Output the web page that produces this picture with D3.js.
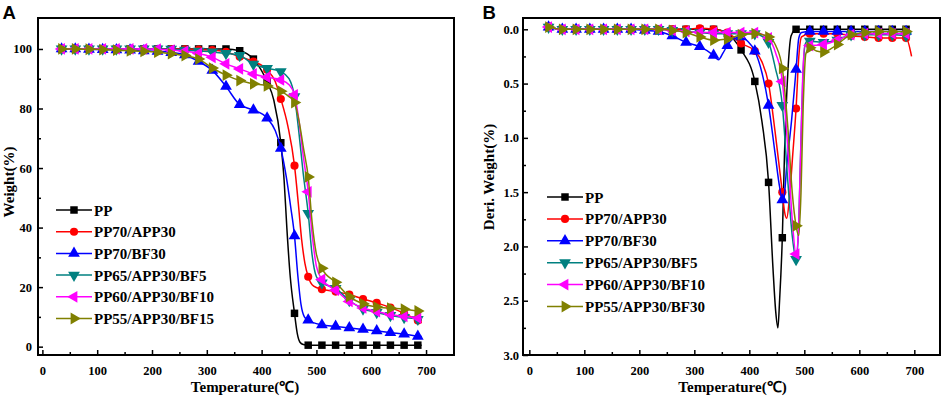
<!DOCTYPE html>
<html>
<head>
<meta charset="utf-8">
<script src="https://cdn.jsdelivr.net/npm/d3@7"></script>
<style>
  body { margin: 0; background: #fff; }
  svg text { font-family: "Liberation Serif", "Times New Roman", serif; font-weight: bold; }
  .panel-label { font-family: "Liberation Sans", Arial, sans-serif !important; }
</style>
</head>
<body>
<svg id="chart" width="943" height="399"></svg>
<script>
// temperatures where symbols sit on the curves
var markerTemps = [35, 60, 85, 110, 135, 160, 185, 210, 235, 260, 285, 310, 335, 360, 385,
  410, 435, 460, 485, 510, 535, 560, 585, 610, 635, 660, 685];

var namesA = ["PP", "PP70/APP30", "PP70/BF30", "PP65/APP30/BF5", "PP60/APP30/BF10", "PP55/APP30/BF15"];
var namesB = ["PP", "PP70/APP30", "PP70/BF30", "PP65/APP30/BF5", "PP60/APP30/BF10", "PP55/APP30/BF30"];
var colors = ["#000000", "#ff0000", "#0000ff", "#008080", "#ff00ff", "#808000"];

var xTicks = [0, 100, 200, 300, 400, 500, 600, 700];
var xMinor = [50, 150, 250, 350, 450, 550, 650];
var yTicksA = [0, 20, 40, 60, 80, 100];
var yMinorA = [10, 30, 50, 70, 90];
var yTicksB = [0, 0.5, 1.0, 1.5, 2.0, 2.5, 3.0];
var yMinorB = [0.25, 0.75, 1.25, 1.75, 2.25, 2.75];

// TGA curves (Weight %)
var tgaPP = [[35,100],[60,100],[85,100],[110,100],[135,100],[160,100],[185,100],[210,100],[235,100],[260,100],
  [285,100],[310,100],[335,100],[360,99.4],[385,96.6],[410,89],[422,83],[435,68.5],[441,56],[446,40],[452,24],
  [460,11.2],[465,4.5],[470,1.5],[476,0.7],[485,0.5],[510,0.5],[535,0.5],[560,0.5],[585,0.5],[610,0.5],
  [635,0.5],[660,0.5],[685,0.5],[692,0.5]];
var tgaAPP = [[35,100],[60,100],[85,100],[110,100],[135,100],[160,100],[185,100],[210,100],[235,100],[260,99.9],
  [285,99.8],[310,99.6],[335,99],[360,97.4],[385,95.8],[410,93],[425,89],[435,83.2],[448,74],[460,60.8],
  [467,48],[473,36],[479,28],[485,23.5],[495,20.3],[510,19.3],[535,18.5],[560,17.5],[585,16],[610,14.7],
  [635,13.1],[660,11.2],[685,8.8],[692,8]];
var tgaBF = [[35,100],[60,100],[85,99.9],[110,99.8],[135,99.7],[160,99.6],[185,99.4],[210,99.2],[235,98.8],[260,98],
  [285,95.8],[310,92.8],[335,87.4],[360,81.3],[385,79.5],[410,76.8],[425,72.5],[435,66.6],[445,57],[453,47],
  [460,37.2],[466,24],[472,14],[478,10],[485,8.9],[510,7.3],[535,6.8],[560,6.3],[585,5.8],[610,5.3],
  [635,4.7],[660,4.2],[685,3.5],[692,3.4]];
var tgaBF5 = [[35,100],[60,100],[85,100],[110,100],[135,100],[160,100],[185,100],[210,100],[235,99.9],[260,99.6],
  [285,99.3],[310,99],[335,98.5],[360,97.8],[385,94.9],[410,93.5],[435,92.4],[450,90],[460,84],[468,72],
  [476,58],[485,44.8],[492,31],[500,23.5],[510,21.4],[535,19.6],[560,15.5],[585,12.7],[610,11.5],[635,10.5],
  [660,9.8],[685,9.2],[692,8.9]];
var tgaBF10 = [[35,100],[60,100],[85,100],[110,100],[135,100],[160,100],[185,100],[210,99.9],[235,99.6],[260,99.2],
  [285,98.5],[310,97.2],[335,95],[360,93.3],[385,91.6],[410,90.5],[435,89.6],[450,88],[460,84.6],[468,76],
  [476,64],[485,52],[492,38],[500,27],[510,22.6],[535,19],[560,15.2],[585,13],[610,11.8],[635,10.8],
  [660,10.2],[685,9.7],[692,9.5]];
var tgaBF15 = [[35,100],[60,100],[85,99.9],[110,99.8],[135,99.6],[160,99.4],[185,99.2],[210,98.9],[235,98.4],[260,97.8],
  [285,96.6],[310,93.6],[335,91.2],[360,89.4],[385,88.3],[410,87.6],[435,85.8],[450,84],[460,82],[468,76],
  [477,66],[485,57],[492,42],[500,31],[510,26.3],[535,21.6],[560,16.8],[585,14.4],[610,13.3],[635,12.9],
  [660,12.6],[685,12],[692,11.8]];

// DTG curves (Deri. Weight %)
var dtgPP = [[35,-0.02],[60,0],[85,0],[110,0],[135,0],[160,0],[185,0],[210,0],[235,0],[260,0],[285,0],[310,0],
  [335,0],[360,0.04],[385,0.19],[410,0.48],[423,0.85],[435,1.41],[443,2.2],[448,2.6],[452,2.75],[455,2.5],
  [460,1.92],[464,1.14],[470,0.4],[476,0.06],[485,0],[510,0],[535,0],[560,0],[585,0],[610,0],[635,0],
  [660,0],[685,0]];
var dtgAPP = [[35,-0.02],[60,0],[85,0],[110,0],[135,0],[160,0],[185,0],[210,0],[235,0],[260,0],[285,0],[310,-0.01],
  [335,0],[360,0.03],[385,0.13],[410,0.2],[423,0.3],[435,0.5],[447,0.95],[460,1.5],[464,1.68],[468,1.74],
  [473,1.55],[479,1.15],[485,0.73],[490,0.25],[495,0.07],[510,0.04],[535,0.04],[560,0.04],[585,0.06],
  [610,0.07],[635,0.08],[660,0.08],[685,0.08],[695,0.25]];
var dtgBF = [[35,-0.02],[60,0],[85,0],[110,0],[135,0],[160,0],[185,0],[210,0.01],[235,0.02],[260,0.06],[285,0.12],
  [310,0.16],[335,0.24],[344,0.28],[352,0.22],[360,0.15],[370,0.09],[385,0.07],[397,0.11],[410,0.2],[423,0.4],
  [435,0.7],[447,1.15],[455,1.45],[460,1.57],[463,1.55],[468,1.26],[477,0.83],[485,0.37],[490,0.08],
  [495,0.03],[510,0.02],[535,0.02],[560,0.02],[585,0.02],[610,0.02],[635,0.02],[660,0.02],[685,0.02]];
var dtgBF5 = [[35,-0.02],[60,0],[85,0],[110,0],[135,0],[160,0],[185,0],[210,0],[235,0],[260,0.01],[285,0.02],
  [310,0.03],[335,0.04],[360,0.04],[385,0.04],[410,0.04],[425,0.07],[435,0.12],[447,0.35],[460,0.7],
  [470,1.4],[478,1.9],[485,2.12],[489,1.9],[493,1.2],[497,0.5],[501,0.15],[505,0.11],[510,0.11],[535,0.12],
  [560,0.1],[585,0.05],[610,0.05],[635,0.05],[660,0.05],[685,0.06]];
var dtgBF10 = [[35,-0.02],[60,0],[85,0],[110,0],[135,0],[160,0],[185,0],[210,0],[235,0],[260,0.01],[285,0.02],
  [310,0.03],[335,0.03],[360,0.03],[385,0.03],[410,0.03],[425,0.05],[435,0.08],[448,0.22],[460,0.48],
  [470,1.1],[478,1.75],[485,2.07],[489,1.9],[493,1.2],[497,0.45],[501,0.15],[510,0.15],[535,0.14],
  [560,0.1],[585,0.05],[610,0.04],[635,0.04],[660,0.04],[685,0.04]];
var dtgBF15 = [[35,-0.02],[60,0],[85,0],[110,0],[135,0],[160,0],[185,0],[210,0],[235,0],[260,0.01],[285,0.03],
  [310,0.07],[335,0.1],[360,0.09],[385,0.05],[410,0.04],[435,0.07],[448,0.15],[460,0.36],[470,0.9],
  [478,1.5],[485,1.81],[490,1.9],[494,1.5],[498,0.7],[503,0.22],[510,0.17],[522,0.2],[535,0.21],[548,0.18],
  [560,0.14],[572,0.09],[585,0.05],[610,0.03],[635,0.02],[660,0.02],[685,0.02]];

var svg = d3.select("#chart");

// symbol type + rotation for each series
var shapes = [
  { type: d3.symbolSquare, size: 56, rot: 0 },
  { type: d3.symbolCircle, size: 52, rot: 0 },
  { type: d3.symbolTriangle, size: 60, rot: 0 },
  { type: d3.symbolTriangle, size: 60, rot: 180 },
  { type: d3.symbolTriangle, size: 60, rot: -90 },
  { type: d3.symbolTriangle, size: 60, rot: 90 }
];

function drawPanel(p) {
  var x = p.x, y = p.y;
  var left = x.range()[0], right = x.range()[1];
  var top = y.range()[1], bottom = y.range()[0];
  if (p.flip) { top = y.range()[0]; bottom = y.range()[1]; }

  var g = svg.append("g");

  var line = d3.line()
    .x(function (d) { return x(d[0]); })
    .y(function (d) { return y(d[1]); })
    .curve(d3.curveMonotoneX);

  p.series.forEach(function (s, i) {
    g.append("path")
      .datum(s)
      .attr("fill", "none")
      .attr("stroke", colors[i])
      .attr("stroke-width", 1.5)
      .attr("d", line);

    g.selectAll(".m" + i)
      .data(s.filter(function (d) { return markerTemps.indexOf(d[0]) >= 0; }))
      .enter()
      .append("path")
      .attr("class", "m" + i)
      .attr("fill", colors[i])
      .attr("d", d3.symbol().type(shapes[i].type).size(shapes[i].size))
      .attr("transform", function (d) {
        return "translate(" + x(d[0]) + "," + y(d[1]) + ") rotate(" + shapes[i].rot + ")";
      });
  });

  // x axis (ticks inward)
  var xa = g.append("g")
    .attr("transform", "translate(0," + bottom + ")")
    .call(d3.axisBottom(x).tickValues(xTicks).tickSize(-5).tickPadding(11).tickFormat(d3.format("d")));
  xa.select(".domain").remove();
  xa.selectAll("line").attr("stroke-width", 1.5);
  xa.selectAll("text").style("font-size", "12.5px");

  var xm = g.append("g")
    .attr("transform", "translate(0," + bottom + ")")
    .call(d3.axisBottom(x).tickValues(xMinor).tickSize(-3).tickFormat(""));
  xm.select(".domain").remove();
  xm.selectAll("line").attr("stroke-width", 1.5);

  // y axis
  var ya = g.append("g")
    .attr("transform", "translate(" + left + ",0)")
    .call(d3.axisLeft(y).tickValues(p.yTicks).tickSize(-5).tickPadding(p.yPad).tickFormat(p.yFormat));
  ya.select(".domain").remove();
  ya.selectAll("line").attr("stroke-width", 1.5);
  ya.selectAll("text").style("font-size", "12.5px");

  var ym = g.append("g")
    .attr("transform", "translate(" + left + ",0)")
    .call(d3.axisLeft(y).tickValues(p.yMinor).tickSize(-3).tickFormat(""));
  ym.select(".domain").remove();
  ym.selectAll("line").attr("stroke-width", 1.5);

  // frame
  g.append("rect")
    .attr("x", left).attr("y", top)
    .attr("width", right - left).attr("height", bottom - top)
    .attr("fill", "none").attr("stroke", "#000").attr("stroke-width", 2);

  // titles
  g.append("text")
    .attr("x", (left + right) / 2 + p.xTitleShift).attr("y", 392)
    .attr("text-anchor", "middle").style("font-size", "15px")
    .text("Temperature(℃)");

  g.append("text")
    .attr("transform", "translate(" + p.yTitleX + "," + p.yTitleY + ") rotate(-90)")
    .attr("text-anchor", "middle").style("font-size", "15px")
    .text(p.yTitle);

  g.append("text")
    .attr("class", "panel-label")
    .attr("x", p.labelX).attr("y", 18.5)
    .style("font-size", "18.5px")
    .text(p.label);

  // legend
  p.names.forEach(function (name, i) {
    var ly = p.legY + i * p.legStep;
    g.append("line")
      .attr("x1", p.legX).attr("x2", p.legX + 36)
      .attr("y1", ly).attr("y2", ly)
      .attr("stroke", colors[i]).attr("stroke-width", 1.5);
    g.append("path")
      .attr("fill", colors[i])
      .attr("d", d3.symbol().type(shapes[i].type).size(shapes[i].size))
      .attr("transform", "translate(" + (p.legX + 18) + "," + ly + ") rotate(" + shapes[i].rot + ")");
    g.append("text")
      .attr("x", p.legX + 38).attr("y", ly + 5.5)
      .style("font-size", "15px")
      .text(name);
  });
}

drawPanel({
  x: d3.scaleLinear().domain([-8, 751]).range([38, 454]),
  y: d3.scaleLinear().domain([-2.8, 110.4]).range([355, 18]),
  series: [tgaPP, tgaAPP, tgaBF, tgaBF5, tgaBF10, tgaBF15],
  names: namesA,
  yTicks: yTicksA, yMinor: yMinorA, yFormat: d3.format("d"), yPad: 6,
  yTitle: "Weight(%)", yTitleX: 14, yTitleY: 182,
  xTitleShift: -1,
  label: "A", labelX: 2.5,
  legX: 56, legY: 210, legStep: 21.7
});

drawPanel({
  x: d3.scaleLinear().domain([-11.5, 746.7]).range([523, 940]),
  y: d3.scaleLinear().domain([-0.104, 3.0]).range([18, 355]),
  flip: true,
  series: [dtgPP, dtgAPP, dtgBF, dtgBF5, dtgBF10, dtgBF15],
  names: namesB,
  yTicks: yTicksB, yMinor: yMinorB, yFormat: d3.format(".1f"), yPad: 4,
  yTitle: "Deri. Weight(%)", yTitleX: 494, yTitleY: 177,
  xTitleShift: 1,
  label: "B", labelX: 482.5,
  legX: 547, legY: 197, legStep: 21.9
});
</script>
</body>
</html>
